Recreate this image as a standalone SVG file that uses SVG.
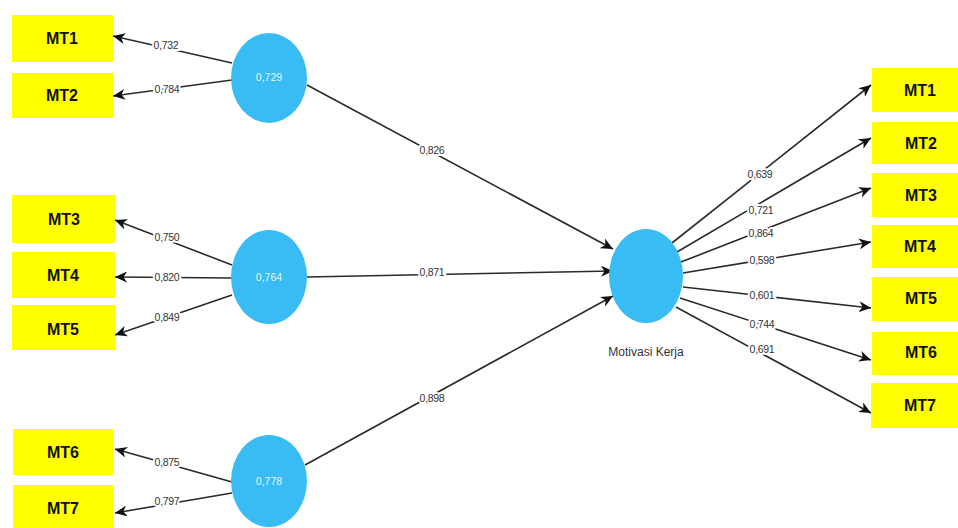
<svg xmlns="http://www.w3.org/2000/svg" width="958" height="528" viewBox="0 0 958 528">
<defs>
<marker id="ah" markerWidth="13" markerHeight="11" refX="12" refY="5.5" orient="auto" markerUnits="userSpaceOnUse">
<path d="M0,0 L12,5.5 L0,11 L3.5,5.5 Z" fill="#111"/>
</marker>
<style>
.box{fill:#FFFF00}
.bt{font-family:"Liberation Sans",Arial,sans-serif;font-weight:bold;font-size:16px;fill:#111;text-anchor:middle}
.lv{fill:#39BBF3}
.ct{font-family:"Liberation Sans",Arial,sans-serif;font-size:10.5px;fill:#E8F6FF;text-anchor:middle}
.ln{stroke:#2a2a2a;stroke-width:1.6;fill:none;marker-end:url(#ah)}
.lb{font-family:"Liberation Sans",Arial,sans-serif;font-size:10.5px;fill:#333;text-anchor:middle;stroke:#fff;stroke-width:4px;paint-order:stroke;letter-spacing:-0.3px}
.nm{font-family:"Liberation Sans",Arial,sans-serif;font-size:12px;fill:#333;text-anchor:middle}
</style>
</defs>
<rect width="958" height="528" fill="#fff"/>

<g id="connectors">
<line class="ln" x1="232" y1="63" x2="113" y2="36"/>
<line class="ln" x1="232" y1="80" x2="113" y2="96"/>
<line class="ln" x1="232" y1="265" x2="115" y2="220"/>
<line class="ln" x1="232" y1="278" x2="115" y2="277"/>
<line class="ln" x1="232" y1="295" x2="115" y2="335"/>
<line class="ln" x1="232" y1="482" x2="115" y2="449"/>
<line class="ln" x1="232" y1="493" x2="115" y2="513"/>
<line class="ln" x1="307" y1="85" x2="613" y2="249"/>
<line class="ln" x1="307" y1="277" x2="613" y2="271"/>
<line class="ln" x1="305" y1="465" x2="613" y2="296"/>
<line class="ln" x1="672" y1="243" x2="871" y2="85"/>
<line class="ln" x1="677" y1="252" x2="871" y2="138"/>
<line class="ln" x1="681" y1="262" x2="871" y2="188"/>
<line class="ln" x1="683" y1="273" x2="871" y2="242"/>
<line class="ln" x1="683" y1="287" x2="871" y2="308"/>
<line class="ln" x1="680" y1="298" x2="871" y2="360"/>
<line class="ln" x1="676" y1="307" x2="871" y2="413"/>
<text class="lb" x="166" y="49">0,732</text>
<text class="lb" x="167" y="93">0,784</text>
<text class="lb" x="167" y="241">0,750</text>
<text class="lb" x="167" y="281">0,820</text>
<text class="lb" x="167" y="321">0,849</text>
<text class="lb" x="167" y="466">0,875</text>
<text class="lb" x="167" y="505">0,797</text>
<text class="lb" x="432" y="154">0,826</text>
<text class="lb" x="432" y="276">0,871</text>
<text class="lb" x="432" y="402">0,898</text>
<text class="lb" x="760" y="178">0,639</text>
<text class="lb" x="761" y="214">0,721</text>
<text class="lb" x="761" y="237">0,864</text>
<text class="lb" x="762" y="264">0,598</text>
<text class="lb" x="762" y="299">0,601</text>
<text class="lb" x="762" y="328">0,744</text>
<text class="lb" x="762" y="353">0,691</text>
</g>

<g id="lv1"><ellipse class="lv" cx="269" cy="78" rx="38" ry="45"/><text class="ct" x="269" y="81">0,729</text></g>
<g id="lv2"><ellipse class="lv" cx="269" cy="277" rx="38" ry="47"/><text class="ct" x="269" y="281">0,764</text></g>
<g id="lv3"><ellipse class="lv" cx="269" cy="481" rx="38" ry="46"/><text class="ct" x="269" y="485">0,778</text></g>
<g id="motivasi"><ellipse class="lv" cx="646" cy="276" rx="37" ry="47"/><text class="nm" x="646" y="356">Motivasi Kerja</text></g>

<g id="L-MT1"><rect class="box" x="12" y="15" width="101" height="47"/><text class="bt" x="62" y="44">MT1</text></g>
<g id="L-MT2"><rect class="box" x="12" y="73" width="101" height="45"/><text class="bt" x="62" y="101">MT2</text></g>
<g id="L-MT3"><rect class="box" x="12" y="195" width="103" height="48"/><text class="bt" x="64" y="225">MT3</text></g>
<g id="L-MT4"><rect class="box" x="12" y="252" width="103" height="46"/><text class="bt" x="63" y="281">MT4</text></g>
<g id="L-MT5"><rect class="box" x="12" y="305" width="103" height="45"/><text class="bt" x="63" y="335">MT5</text></g>
<g id="L-MT6"><rect class="box" x="13" y="429" width="100" height="46"/><text class="bt" x="63" y="458">MT6</text></g>
<g id="L-MT7"><rect class="box" x="13" y="485" width="100" height="43"/><text class="bt" x="63" y="514">MT7</text></g>

<g id="R-MT1"><rect class="box" x="872" y="68" width="86" height="44"/><text class="bt" x="920" y="96">MT1</text></g>
<g id="R-MT2"><rect class="box" x="872" y="122" width="86" height="42"/><text class="bt" x="921" y="149">MT2</text></g>
<g id="R-MT3"><rect class="box" x="872" y="173" width="86" height="44"/><text class="bt" x="921" y="201">MT3</text></g>
<g id="R-MT4"><rect class="box" x="872" y="225" width="86" height="43"/><text class="bt" x="920" y="252">MT4</text></g>
<g id="R-MT5"><rect class="box" x="872" y="277" width="86" height="44"/><text class="bt" x="921" y="304">MT5</text></g>
<g id="R-MT6"><rect class="box" x="872" y="332" width="86" height="43"/><text class="bt" x="921" y="358">MT6</text></g>
<g id="R-MT7"><rect class="box" x="871" y="383" width="87" height="45"/><text class="bt" x="920" y="411">MT7</text></g>
</svg>
